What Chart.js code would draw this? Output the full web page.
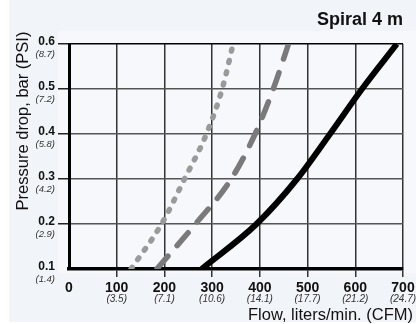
<!DOCTYPE html>
<html>
<head>
<meta charset="utf-8">
<script src="https://cdn.jsdelivr.net/npm/chart.js@4.4.1/dist/chart.umd.min.js"></script>
<style>
  html, body { margin: 0; padding: 0; background: #ffffff; }
  #wrap { width: 416px; height: 324px; position: relative; }
</style>
</head>
<body>
<div id="wrap"><canvas id="chart" width="416" height="324"></canvas></div>
<script>
// ---- data ----
const pressureBar = [0.1, 0.2, 0.3, 0.4, 0.5, 0.6];
const flowDotted = [130, 194, 242, 288, 321, 344];
const flowDashed = [184, 265, 340, 390, 428, 460];
const flowSolid = [278, 393, 478, 547, 614, 687];

const flowTicks = [0, 100, 200, 300, 400, 500, 600, 700];
const cfmLabels = ['', '(3.5)', '(7.1)', '(10.6)', '(14.1)', '(17.7)', '(21.2)', '(24.7)'];
const barTicks = [0.1, 0.2, 0.3, 0.4, 0.5, 0.6];
const psiLabels = ['(1.4)', '(2.9)', '(4.2)', '(5.8)', '(7.2)', '(8.7)'];

const FONT = "'Liberation Sans', Arial, sans-serif";

function toPoints(flows) {
  return flows.map((f, i) => ({ x: f, y: pressureBar[i] }));
}

// panels behind the plot
const backdrop = {
  id: 'backdrop',
  beforeDraw(chart) {
    const ctx = chart.ctx;
    ctx.save();
    ctx.fillStyle = '#ffffff';
    ctx.fillRect(0, 0, chart.width, chart.height);
    ctx.fillStyle = '#f1f4f8';
    ctx.fillRect(9, 0, chart.width - 9, 322);
    ctx.fillStyle = '#f6f8fb';
    ctx.fillRect(58, 31, chart.width - 58, 242);
    ctx.restore();
  }
};

// italic secondary labels + axis titles
const extraText = {
  id: 'extraText',
  afterDraw(chart) {
    const ctx = chart.ctx;
    const xs = chart.scales.x, ys = chart.scales.y;
    ctx.save();
    ctx.fillStyle = '#333';
    ctx.font = 'italic 10px ' + FONT;
    ctx.textAlign = 'center';
    ctx.textBaseline = 'middle';
    flowTicks.forEach((v, i) => {
      if (cfmLabels[i]) ctx.fillText(cfmLabels[i], xs.getPixelForValue(v), 299);
    });
    ctx.font = 'italic 9.5px ' + FONT;
    ctx.textAlign = 'right';
    barTicks.forEach((v, i) => {
      ctx.fillText(psiLabels[i], 55, ys.getPixelForValue(v) + 10);
    });

    ctx.fillStyle = '#111';
    ctx.font = '16.5px ' + FONT;
    ctx.textAlign = 'right';
    ctx.fillText('Flow, liters/min. (CFM)', 413, 315);

    ctx.translate(23, 121);
    ctx.rotate(-Math.PI / 2);
    ctx.textAlign = 'center';
    ctx.fillText('Pressure drop, bar (PSI)', 0, 0);
    ctx.restore();
  }
};

new Chart(document.getElementById('chart'), {
  type: 'scatter',
  data: {
    datasets: [
      {
        label: 'dotted',
        data: toPoints(flowDotted),
        showLine: true,
        borderColor: '#9a9a9a',
        borderWidth: 5.5,
        borderDash: [2, 9.5],
        borderCapStyle: 'round',
        cubicInterpolationMode: 'monotone',
        pointRadius: 0,
        clip: 0
      },
      {
        label: 'dashed',
        data: toPoints(flowDashed),
        showLine: true,
        borderColor: '#7a7a7a',
        borderWidth: 5.5,
        borderDash: [17, 14],
        borderCapStyle: 'round',
        cubicInterpolationMode: 'monotone',
        pointRadius: 0,
        clip: 0
      },
      {
        label: 'solid',
        data: toPoints(flowSolid),
        showLine: true,
        borderColor: '#000000',
        borderWidth: 6,
        cubicInterpolationMode: 'monotone',
        pointRadius: 0,
        clip: 0
      }
    ]
  },
  options: {
    responsive: false,
    animation: false,
    devicePixelRatio: 1,
    layout: { padding: { left: 0, right: 13, top: 0, bottom: 0 } },
    plugins: {
      legend: { display: false },
      tooltip: { enabled: false },
      title: {
        display: true,
        text: 'Spiral 4 m',
        align: 'end',
        color: '#111',
        font: { family: FONT, size: 18, weight: 'bold' },
        padding: { top: 9, bottom: 13.4 }
      }
    },
    scales: {
      x: {
        type: 'linear',
        min: 0,
        max: 700,
        afterFit(scale) {
          scale.height = 55;
          scale.paddingLeft = 0;
          scale.paddingRight = 0;
        },
        afterBuildTicks(scale) {
          scale.ticks = flowTicks.map(v => ({ value: v }));
        },
        ticks: {
          color: '#111',
          font: { family: FONT, size: 14, weight: 'bold' },
          padding: 3,
          maxRotation: 0,
          autoSkip: false
        },
        grid: {
          color: '#333',
          lineWidth: 1.5,
          tickLength: 8,
          tickColor: ctx => ctx.index === 0 ? 'rgba(0,0,0,0)' : '#333',
          tickWidth: 1.5
        },
        border: { color: '#000', width: 3.5 }
      },
      y: {
        min: 0.1,
        max: 0.6,
        afterFit(scale) {
          scale.width = 69;
          scale.paddingTop = 0;
          scale.paddingBottom = 0;
        },
        afterBuildTicks(scale) {
          scale.ticks = barTicks.map(v => ({ value: v }));
        },
        ticks: {
          color: '#111',
          font: { family: FONT, size: 12, weight: 'bold' },
          padding: 3,
          labelOffset: -2,
          callback: v => v.toFixed(1)
        },
        grid: {
          color: ctx => ctx.index === barTicks.length - 1 ? '#000' : '#555',
          lineWidth: 1.5,
          tickLength: 11,
          tickColor: ctx => ctx.index === 0 ? 'rgba(0,0,0,0)' : '#222',
          tickWidth: 1.5
        },
        border: { color: '#000', width: 3 }
      }
    }
  },
  plugins: [backdrop, extraText]
});
</script>
</body>
</html>
